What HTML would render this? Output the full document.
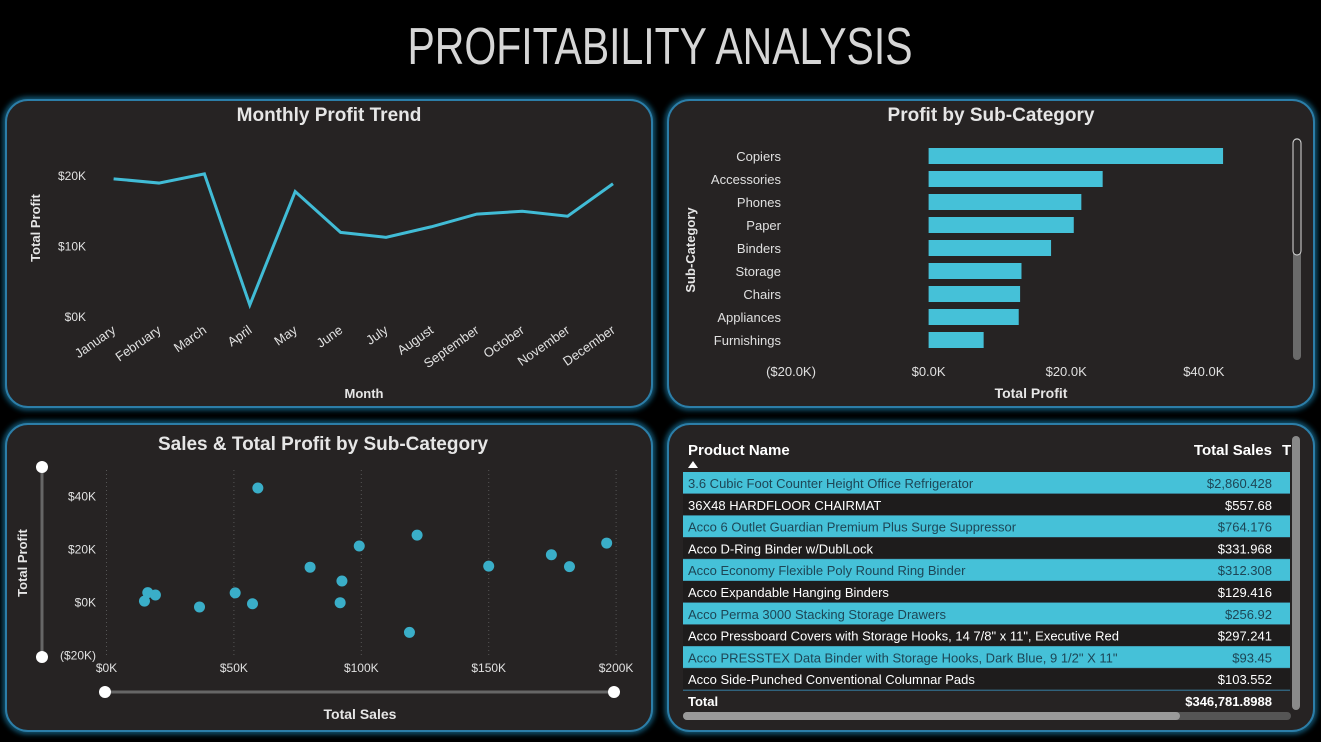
<!DOCTYPE html>
<html><head><meta charset="utf-8"><style>
html,body{margin:0;padding:0;background:#000;width:1321px;height:742px;overflow:hidden}
svg text{font-family:"Liberation Sans",sans-serif}
</style></head><body>
<svg id="s" width="1321" height="742" viewBox="0 0 1321 742" xmlns="http://www.w3.org/2000/svg">
<defs>
<filter id="glow" x="-5%" y="-5%" width="110%" height="110%"><feGaussianBlur stdDeviation="3"/></filter>
</defs>
<rect width="1321" height="742" fill="#000"/>
<text x="660" y="64" text-anchor="middle" font-size="52" fill="#d6d6d6" textLength="505" lengthAdjust="spacingAndGlyphs">PROFITABILITY ANALYSIS</text>

<g id="panels"></g>

<!-- line chart -->
<g id="line">
<text x="329" y="121" text-anchor="middle" font-size="19" font-weight="bold" fill="#e6e6e6">Monthly Profit Trend</text>
<text transform="translate(40,228) rotate(-90)" text-anchor="middle" font-size="13" font-weight="bold" fill="#e6e6e6">Total Profit</text>
<text x="364" y="398" text-anchor="middle" font-size="13" font-weight="bold" fill="#e6e6e6">Month</text>
</g>

<!-- bar chart -->
<g id="bar">
<text x="991" y="121" text-anchor="middle" font-size="19" font-weight="bold" fill="#e6e6e6">Profit by Sub-Category</text>
<text transform="translate(695,250) rotate(-90)" text-anchor="middle" font-size="13" font-weight="bold" fill="#e6e6e6">Sub-Category</text>
<text x="1031" y="398" text-anchor="middle" font-size="14" font-weight="bold" fill="#e6e6e6">Total Profit</text>
<rect x="1293" y="138" width="8" height="222" rx="4" fill="#6a6a6a"/>
<rect x="1293" y="139" width="8" height="116" rx="4" fill="#2a2828" stroke="#ddd" stroke-width="1"/>
</g>

<!-- scatter -->
<g id="sc">
<text x="323" y="450" text-anchor="middle" font-size="19" font-weight="bold" fill="#e6e6e6">Sales &amp; Total Profit by Sub-Category</text>
<text transform="translate(27,563) rotate(-90)" text-anchor="middle" font-size="13" font-weight="bold" fill="#e6e6e6">Total Profit</text>
<text x="360" y="719" text-anchor="middle" font-size="14" font-weight="bold" fill="#e6e6e6">Total Sales</text>
<line x1="42" y1="467" x2="42" y2="657" stroke="#666" stroke-width="3"/>
<circle cx="42" cy="467" r="6" fill="#fff"/>
<circle cx="42" cy="657" r="6" fill="#fff"/>
<line x1="105" y1="692" x2="614" y2="692" stroke="#666" stroke-width="3"/>
<circle cx="105" cy="692" r="6" fill="#fff"/>
<circle cx="614" cy="692" r="6" fill="#fff"/>
</g>

<!-- table -->
<g id="tbl">
<text x="688" y="455" font-size="15" font-weight="bold" fill="#fff">Product Name</text>
<path d="M688 468 L693 461 L698 468 Z" fill="#fff"/>
<text x="1272" y="455" text-anchor="end" font-size="15" font-weight="bold" fill="#fff">Total Sales</text>
<text x="1282" y="455" font-size="15" font-weight="bold" fill="#fff">T</text>
<line x1="683" y1="690" x2="1290" y2="690" stroke="#2f7fb0" stroke-width="1.5"/>
<text x="688" y="706" font-size="13" font-weight="bold" fill="#fff">Total</text>
<text x="1272" y="706" text-anchor="end" font-size="13" font-weight="bold" fill="#fff">$346,781.8988</text>
<rect x="1292" y="436" width="8" height="274" rx="4" fill="#8a8a8a"/>
<rect x="683" y="712" width="608" height="8" rx="4" fill="#555"/>
<rect x="683" y="712" width="497" height="8" rx="4" fill="#9a9a9a"/>
</g>
</svg>
<script>
const NS="http://www.w3.org/2000/svg";
const svg=document.getElementById('s');
function mk(parent,tag,attrs,txt){const e=document.createElementNS(NS,tag);for(const k in attrs)e.setAttribute(k,attrs[k]);if(txt!==undefined)e.textContent=txt;parent.appendChild(e);return e;}

// panels
const panelBoxes=[[6,100,646,307,'line-panel'],[668,100,646,307,'bar-panel'],[6,424,646,307,'scatter-panel'],[668,424,646,307,'table-panel']];
const pg=document.getElementById('panels');
panelBoxes.forEach(p=>{
  const g=mk(pg,'rect',{x:p[0],y:p[1],width:p[2],height:p[3],rx:22,fill:'none',stroke:'#1e8fc0','stroke-width':5,filter:'url(#glow)',opacity:0.8});
  const r=mk(pg,'rect',{x:p[0],y:p[1],width:p[2],height:p[3],rx:22,fill:'#262323',stroke:'#2c7ea8','stroke-width':2});
  
  
});

// ===== Line chart data =====
const months=['January','February','March','April','May','June','July','August','September','October','November','December'];
const monthlyProfit=[19.6,19.0,20.3,1.7,17.8,12.0,11.3,12.8,14.6,15.0,14.3,18.9];
const lineTicks=[0,10,20];
const lineTickLabels=['$0K','$10K','$20K'];
const lx=i=>113.6+i*45.4;
const ly=v=>317-v*7.05;
const lg=document.getElementById('line');
lineTicks.forEach((t,i)=>{
  const e=mk(lg,'text',{x:86,y:ly(t)+4,'text-anchor':'end','font-size':12,fill:'#e0e0e0'},lineTickLabels[i]);
  
  
});
months.forEach((m,i)=>{
  const e=mk(lg,'text',{transform:`translate(${lx(i)+3},${332}) rotate(-35)`,'text-anchor':'end','font-size':13,fill:'#e0e0e0'},m);
  
  
});
const lp=mk(lg,'polyline',{points:monthlyProfit.map((v,i)=>lx(i)+','+ly(v)).join(' '),fill:'none',stroke:'#41bcd6','stroke-width':3,'stroke-linejoin':'miter'});



// ===== Bar chart data =====
const subCats=['Copiers','Accessories','Phones','Paper','Binders','Storage','Chairs','Appliances','Furnishings'];
const subProfit=[42.8,25.3,22.2,21.1,17.8,13.5,13.3,13.1,8.0];
const barTicks=[-20,0,20,40];
const barTickLabels=['($20.0K)','$0.0K','$20.0K','$40.0K'];
const bx=v=>928.6+v*6.88;
const by=i=>156+i*23;
const bg=document.getElementById('bar');
barTicks.forEach((t,i)=>{
  const e=mk(bg,'text',{x:bx(t),y:376,'text-anchor':'middle','font-size':13,fill:'#e0e0e0'},barTickLabels[i]);
  
  
});
subCats.forEach((c,i)=>{
  const t=mk(bg,'text',{x:781,y:by(i)+5,'text-anchor':'end','font-size':13,fill:'#e0e0e0'},c);
  
  
  const v=subProfit[i];
  const r=mk(bg,'rect',{x:Math.min(bx(0),bx(v)),y:by(i)-8,width:Math.abs(bx(v)-bx(0)),height:16,fill:'#45c1d8'});
  
  
});

// ===== Scatter data =====
const scSales=[59.4,121.9,99.2,196.3,174.6,181.7,150.0,79.9,92.4,91.7,118.9,57.3,50.5,36.5,16.2,19.2,14.9];
const scProfit=[43.3,25.5,21.4,22.5,18.1,13.6,13.8,13.4,8.2,0.0,-11.2,-0.4,3.7,-1.6,3.8,2.9,0.6];
const scXTicks=[0,50,100,150,200];
const scXLabels=['$0K','$50K','$100K','$150K','$200K'];
const scYTicks=[-20,0,20,40];
const scYLabels=['($20K)','$0K','$20K','$40K'];
const sx=v=>106.5+v*2.548;
const sy=v=>602.7-v*2.65;
const sg=document.getElementById('sc');
scXTicks.forEach((t,i)=>{
  const l=mk(sg,'line',{x1:sx(t),y1:470,x2:sx(t),y2:655,stroke:'#555','stroke-width':1,'stroke-dasharray':'1,3'});
  
  
  const e=mk(sg,'text',{x:sx(t),y:672,'text-anchor':'middle','font-size':12,fill:'#e0e0e0'},scXLabels[i]);
  
  
});
scYTicks.forEach((t,i)=>{
  const e=mk(sg,'text',{x:96,y:sy(t)+4,'text-anchor':'end','font-size':12,fill:'#e0e0e0'},scYLabels[i]);
  
  
});
scSales.forEach((s,i)=>{
  const c=mk(sg,'circle',{cx:sx(s),cy:sy(scProfit[i]),r:5.5,fill:'#3aaec8'});
  
  
});

// ===== Table =====
const products=['3.6 Cubic Foot Counter Height Office Refrigerator','36X48 HARDFLOOR CHAIRMAT','Acco 6 Outlet Guardian Premium Plus Surge Suppressor','Acco D-Ring Binder w/DublLock','Acco Economy Flexible Poly Round Ring Binder','Acco Expandable Hanging Binders','Acco Perma 3000 Stacking Storage Drawers','Acco Pressboard Covers with Storage Hooks, 14 7/8" x 11", Executive Red','Acco PRESSTEX Data Binder with Storage Hooks, Dark Blue, 9 1/2" X 11"','Acco Side-Punched Conventional Columnar Pads'];
const productSales=['$2,860.428','$557.68','$764.176','$331.968','$312.308','$129.416','$256.92','$297.241','$93.45','$103.552'];
const tg=document.getElementById('tbl');
products.forEach((p,i)=>{
  const y=472+i*21.8;
  const hl=i%2===0;
  const r=mk(tg,'rect',{x:683,y:y,width:607,height:21.8,fill:hl?'#45c1d8':'#1e1c1c'});
  
  
  mk(tg,'line',{x1:683,y1:y+21.8,x2:1290,y2:y+21.8,stroke:'#3a6f86','stroke-width':0.8});
  const col=hl?'#1d4656':'#ffffff';
  const t1=mk(tg,'text',{x:688,y:y+16,'font-size':13,fill:col},p);
  
  
  const t2=mk(tg,'text',{x:1272,y:y+16,'text-anchor':'end','font-size':13,fill:col},productSales[i]);
  
  
});
</script>
</body></html>
